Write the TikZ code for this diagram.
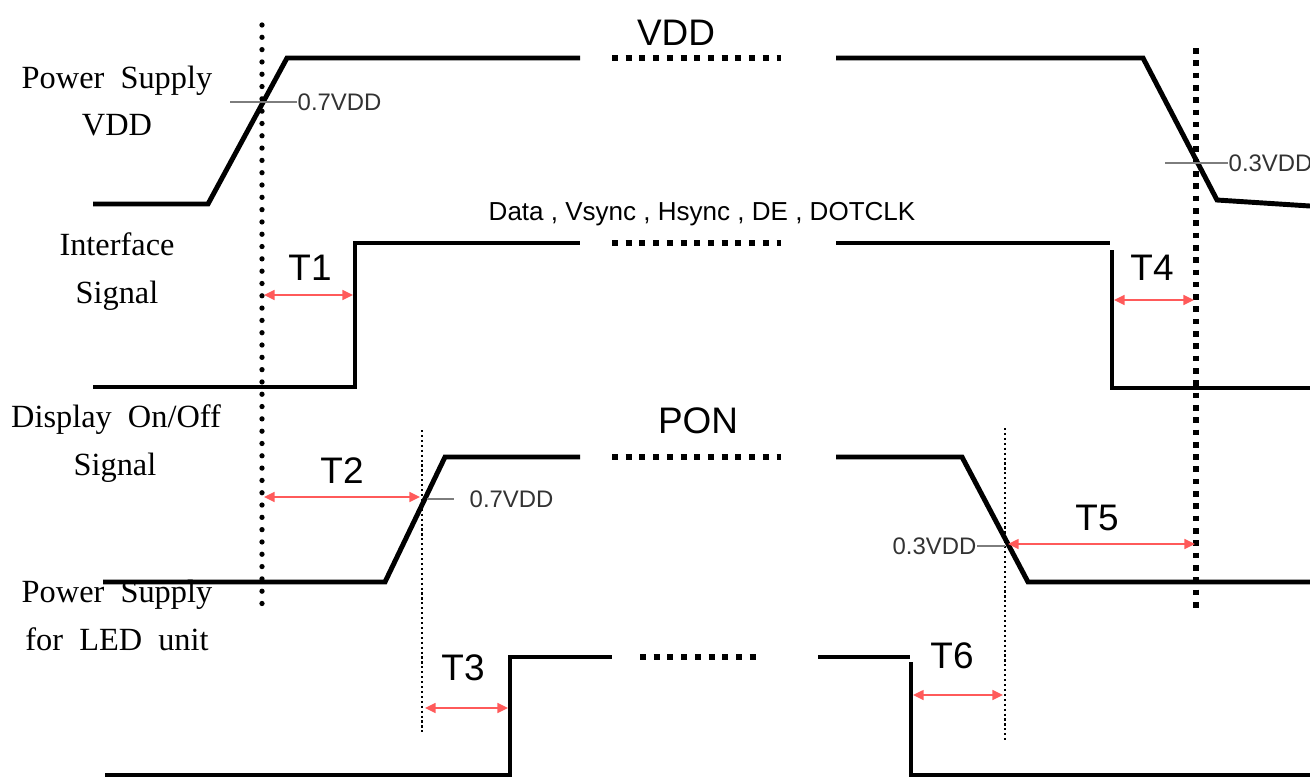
\documentclass[tikz,border=0pt]{standalone}
\usepackage{fontspec}
\setmainfont{Liberation Serif}
\setsansfont{Liberation Sans}
\usetikzlibrary{arrows.meta}

\definecolor{spanred}{RGB}{255,90,90}
\definecolor{markgray}{RGB}{125,125,125}

\begin{document}
\begin{tikzpicture}[x=0.01cm, y=-0.01cm]
\tikzset{
        wave/.style={line width=1.4pt, line join=miter},
        skip/.style={line width=1.5pt, dash pattern=on 1.7pt off 2.2pt},
        mainguide/.style={line width=1.5pt, line cap=round, dash pattern=on 0pt off 3.5pt},
        endguide/.style={line width=1.6pt, dash pattern=on 1.6pt off 1.9pt},
        thinguide/.style={line width=0.6pt, dash pattern=on 0.6pt off 0.8pt},
        span/.style={spanred, line width=0.5pt, {Triangle[length=3pt,width=2.8pt]}-{Triangle[length=3pt,width=2.8pt]}},
        level/.style={markgray, line width=0.4pt},
        lvltext/.style={font=\sffamily\fontsize{6.8}{8}\selectfont, text=black!80, inner sep=0pt},
        tname/.style={font=\sffamily\fontsize{10.5}{12}\selectfont, anchor=base, inner sep=0pt},
        sname/.style={font=\fontsize{9.2}{11}\selectfont, anchor=base, inner sep=0pt}
}
        \useasboundingbox (0,0) rectangle (1310,778);

        % signal names
        \node[sname] (vddname) at (117,88) {Power\ \ Supply};
        \node[sname] (vddsub) at (117,135) {VDD};
        \node[sname] (ifname) at (117,255) {Interface};
        \node[sname] (ifsub) at (117,303) {Signal};
        \node[sname] (dispname) at (116,427) {Display\ \ On/Off};
        \node[sname] (dispsub) at (115,475) {Signal};
        \node[sname] (ledname) at (117,602) {Power\ \ Supply};
        \node[sname] (ledsub) at (117,650) {for\ \ LED\ \ unit};

        % waveforms
        \draw[wave] (93,204) -- (208,204) -- (287,58) -- (580,58);
        \draw[skip] (612,58) -- (781,58);
        \draw[wave] (836,58) -- (1143,58) -- (1217,200) -- (1310,206);

        \draw[wave] (93,387) -- (355,387) -- (355,243) -- (580,243);
        \draw[skip] (612,243) -- (781,243);
        \draw[wave] (836,243) -- (1110,243);
        \draw[wave] (1112,250) -- (1112,388) -- (1310,388);

        \draw[wave] (103,582) -- (385,582) -- (445,457) -- (580,457);
        \draw[skip] (612,457) -- (781,457);
        \draw[wave] (836,457) -- (962,457) -- (1028,582) -- (1310,582);

        \draw[wave] (105,775) -- (510,775) -- (510,657) -- (612,657);
        \draw[skip] (640,657) -- (757,657);
        \draw[wave] (818,657) -- (910,657);
        \draw[wave] (911,662) -- (911,775) -- (1310,775);

        \node[tname] (vdd) at (676,45) {VDD};
        \node[font=\sffamily\fontsize{7.4}{9}\selectfont, anchor=base, inner sep=0pt] (bus) at (702,220) {Data , Vsync , Hsync , DE , DOTCLK};
        \node[tname] (pon) at (698,433) {PON};

        % guides
        \draw[mainguide] (262,25) -- (262,615);
        \draw[endguide] (1196,48) -- (1196,612);
        \draw[thinguide] (422,430) -- (422,732);
        \draw[thinguide] (1005,428) -- (1005,742);

        % levels
        \node[lvltext, anchor=west] (vddhi) at (297,102) {0.7VDD};
        \draw[level] (230,102) -- (vddhi.west);
        \node[lvltext, anchor=west] (vddlo) at (1228,163) {0.3VDD};
        \draw[level] (1165,163) -- (vddlo.west);
        \node[lvltext, anchor=west] (ponhi) at (469,499) {0.7VDD};
        \draw[level] (427,499) -- ([xshift=-0.15cm]ponhi.west);
        \node[lvltext, anchor=east] (ponlo) at (977,546) {0.3VDD};
        \draw[level] (ponlo.east) -- (1005,546);

        % timings
        \coordinate (t1s) at (264,295);
        \coordinate (t1e) at (353,295);
        \draw[span] (t1s) -- (t1e);
        \node[tname] (t1) at (310,280) {T1};
        \coordinate (t2s) at (264,497);
        \coordinate (t2e) at (420,497);
        \draw[span] (t2s) -- (t2e);
        \node[tname] (t2) at (342,483) {T2};
        \coordinate (t3s) at (425,708);
        \coordinate (t3e) at (508,708);
        \draw[span] (t3s) -- (t3e);
        \node[tname] (t3) at (463,680) {T3};
        \coordinate (t4s) at (1114,300);
        \coordinate (t4e) at (1194,300);
        \draw[span] (t4s) -- (t4e);
        \node[tname] (t4) at (1152,280) {T4};
        \coordinate (t5s) at (1008,544);
        \coordinate (t5e) at (1195,544);
        \draw[span] (t5s) -- (t5e);
        \node[tname] (t5) at (1097,530) {T5};
        \coordinate (t6s) at (913,695);
        \coordinate (t6e) at (1003,695);
        \draw[span] (t6s) -- (t6e);
        \node[tname] (t6) at (952,668) {T6};
\end{tikzpicture}
\end{document}
